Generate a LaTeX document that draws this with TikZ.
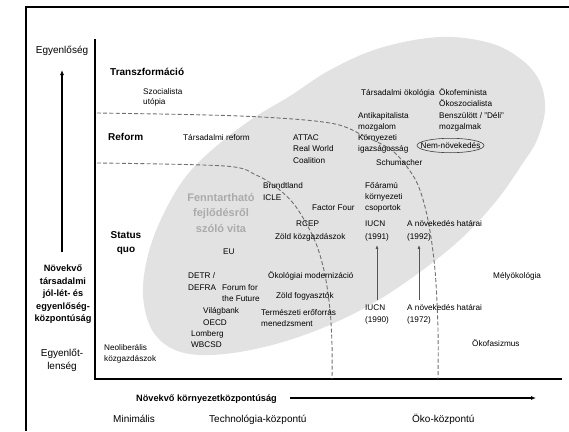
\documentclass[tikz,border=0pt]{standalone}
\usepackage{fontspec}
\setmainfont{Liberation Sans}
\usetikzlibrary{arrows.meta}
\definecolor{blobgrey}{HTML}{E2E2E2}
\definecolor{dashgrey}{HTML}{707070}
\definecolor{sdgrey}{HTML}{ABABAB}
\definecolor{arrgrey}{HTML}{555555}
\tikzset{
  sm/.style={anchor=base west, inner sep=0pt, align=left, font=\fontsize{8.2}{11}\selectfont},
  lvl/.style={anchor=base west, inner sep=0pt, font=\fontsize{10}{14}\selectfont\bfseries},
  big/.style={inner sep=0pt, font=\fontsize{10}{13}\selectfont},
  axlbl/.style={inner sep=0pt, align=center, font=\fontsize{9.2}{12.5}\selectfont\bfseries},
  divline/.style={dashgrey, dash pattern=on 4pt off 2.2pt, line width=0.9pt},
  axisline/.style={black, line width=1.4pt},
  bigarrow/.style={black, line width=1.1pt, -{Latex[length=5pt,width=4pt]}},
  smallarrow/.style={arrgrey, line width=1pt, -{Latex[length=4pt,width=3pt]}},
}
\begin{document}
\begin{tikzpicture}[x=1pt,y=-1pt]
\useasboundingbox (0,0) rectangle (569,431);
% grey blob
\fill[blobgrey] plot[smooth cycle, tension=0.6] coordinates {(440,37) (490,43) (522,60) (540,82) (545,110) (537,140) (523,163) (497,200) (463,237) (420,272) (370,305) (315,331) (260,348) (210,355) (175,350) (152,330) (143,295) (148,255) (163,215) (187,175) (220,143) (255,117) (290,96) (330,70) (380,48)};
% frame
\draw[black, line width=2.4pt] (26,431) -- (26,7) -- (569,7);
% axes
\draw[axisline] (95,39) -- (95,379) -- (562,379);
% dashed divisions
\draw[divline] plot[smooth, tension=0.55] coordinates {(97,113) (240,116) (330,123) (366,137) (390,149) (404,163) (418,185) (428,220) (435,270) (438,330) (438,379)};
\draw[divline] plot[smooth, tension=0.55] coordinates {(97,163) (225,166) (256,175) (276,187) (293,203) (306,223) (317,246) (325,275) (330,310) (332,345) (332,379)};
% left arrow
\coordinate (ylow) at (62,252);
\coordinate (yhigh) at (62,70);
\draw[bigarrow] (ylow) -- (yhigh);
% bottom arrow
\coordinate (xlow) at (290,398);
\coordinate (xhigh) at (536,398);
\draw[bigarrow] (xlow) -- (xhigh);
% left labels
\node[big] (egy) at (62,51) {Egyenlőség};
\node[axlbl, anchor=base] (leftlbl) at (63,321.5) {Növekvő\\társadalmi\\jól-lét- és\\egyenlőség-\\központúság};
\node[big, anchor=base, align=center] (egyt) at (62,369.5) {Egyenlőt-\\lenség};
% bottom labels
\node[axlbl, anchor=base west] (xlbl) at (136,401.5) {Növekvő környezetközpontúság};
\node[big, anchor=base west] (mini) at (113,422) {Minimális};
\node[big, anchor=base west] (tech) at (209,422) {Technológia-központú};
\node[big, anchor=base west] (oko) at (412,422) {Öko-központú};
% level labels
\node[lvl] (transz) at (110,75) {Transzformáció};
\node[lvl] (reform) at (108,140) {Reform};
\node[lvl, anchor=base, align=center] (status) at (126,252) {Status\\quo};
% SD label
\node[anchor=base, inner sep=0pt, align=center, text=sdgrey, font=\fontsize{11}{15.5}\selectfont\bfseries] (sd) at (221,232) {Fenntartható\\fejlődésről\\szóló vita};
% items (anchor = baseline of the last line)
\node[sm, font=\fontsize{8.2}{10.5}\selectfont] (szoc) at (143,104.5) {Szocialista\\utópia};
\node[sm] (tref) at (183,140) {Társadalmi reform};
\node[sm, font=\fontsize{8.2}{11.5}\selectfont] (attac) at (293,163) {ATTAC\\Real World\\Coalition};
\node[sm] (tok) at (361,95) {Társadalmi ökológia};
\node[sm, font=\fontsize{8.2}{11.6}\selectfont] (okofem) at (439,129.8) {Ökofeminista\\Ökoszocialista\\Benszülött / "Déli"\\mozgalmak};
\node[sm] (antik) at (358,151) {Antikapitalista\\mozgalom\\Környezeti\\igazságosság};
\node[inner sep=0pt, font=\fontsize{8.2}{11}\selectfont] (nemn) at (450.5,145.5) {Nem-növekedés};
\draw[black!75, line width=0.6pt] (nemn.center) ellipse [x radius=33.5, y radius=7.2];
\node[sm] (schum) at (376,165) {Schumacher};
\node[sm, font=\fontsize{8.2}{12}\selectfont] (brund) at (263,200) {Brundtland\\ICLE};
\node[sm] (ffs) at (365,210) {Főáramú\\környezeti\\csoportok};
\node[sm] (factor) at (312,210) {Factor Four};
\node[sm] (rcep) at (296,226) {RCEP};
\node[sm] (zk) at (275,239) {Zöld közgazdászok};
\node[sm, font=\fontsize{8.2}{13}\selectfont] (iucn91) at (365,239) {IUCN\\(1991)};
\node[sm, font=\fontsize{8.2}{13}\selectfont] (nh92) at (407,239) {A növekedés határai\\(1992)};
\node[sm] (eu) at (223,254) {EU};
\node[sm, font=\fontsize{8.2}{12}\selectfont] (detr) at (188,290) {DETR /\\DEFRA};
\node[sm] (forum) at (222,301) {Forum for\\the Future};
\node[sm] (okm) at (268,278) {Ökológiai modernizáció};
\node[sm] (zf) at (276,298) {Zöld fogyasztók};
\node[sm, font=\fontsize{8.2}{12}\selectfont] (vil) at (203,325) {Világbank\\OECD};
\node[sm] (term) at (261,326) {Természeti erőforrás\\menedzsment};
\node[sm, font=\fontsize{8.2}{12}\selectfont] (iucn90) at (365,322) {IUCN\\(1990)};
\node[sm, font=\fontsize{8.2}{12}\selectfont] (nh72) at (407,322) {A növekedés határai\\(1972)};
\node[sm] (mely) at (493,278) {Mélyökológia};
\node[sm] (lomb) at (191,347) {Lomberg\\WBCSD};
\node[sm] (okof) at (472,346) {Ökofasizmus};
\node[sm] (neo) at (104,361) {Neoliberális\\közgazdászok};
% progress arrows
\draw[smallarrow, shorten <=4pt, shorten >=4pt] ([xshift=12pt]iucn90.north west) -- ([xshift=12pt]iucn91.south west);
\draw[smallarrow, shorten <=4pt, shorten >=4pt] ([xshift=12pt]nh72.north west) -- ([xshift=12pt]nh92.south west);
\end{tikzpicture}
\end{document}
